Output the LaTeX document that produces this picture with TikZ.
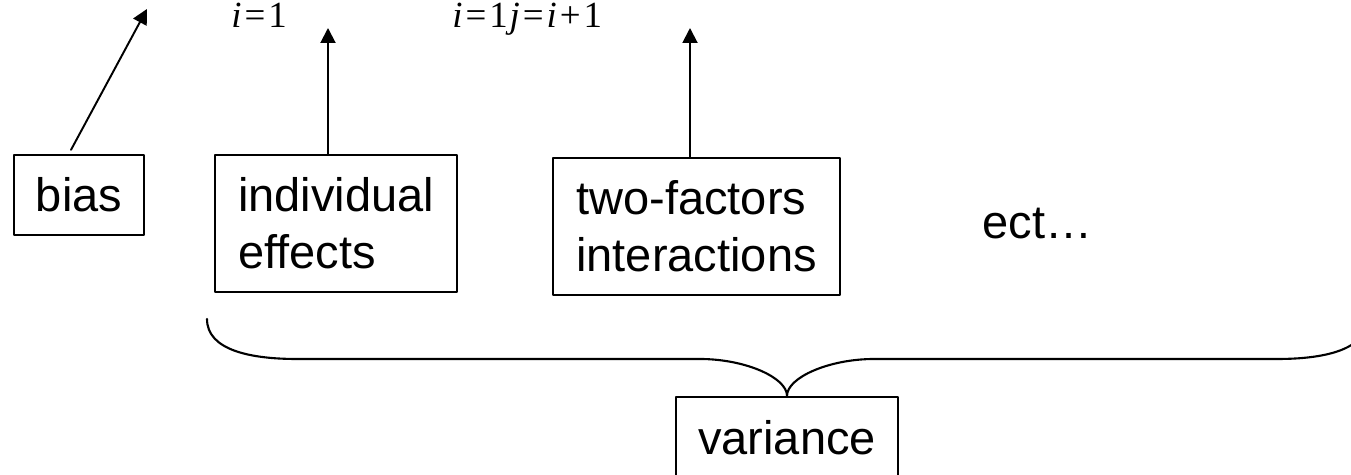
\documentclass[tikz,border=0pt]{standalone}
\usepackage{fontspec}
\setmainfont{Liberation Serif}
\newfontfamily\boxfont{Liberation Sans}
\usetikzlibrary{arrows.meta}

\begin{document}
\begin{tikzpicture}[x=1cm,y=1cm,>={Triangle[length=3mm,width=3mm]},line cap=round,line join=round,
  termbox/.style={draw,line width=1.3pt,align=left,inner sep=0pt,font=\boxfont\fontsize{26.75}{32.4}\selectfont},
  limit/.style={anchor=base west,inner sep=0pt,font=\fontsize{21}{25}\selectfont}]
\useasboundingbox (0,0) rectangle (27.02,9.5);
\node[termbox,minimum width=2.6cm,minimum height=1.6cm] (bias) at (1.58,5.6) {bias};
\node[termbox,minimum width=4.84cm,minimum height=2.74cm] (indiv) at (6.72,5.03) {individual\\effects};
\node[termbox,minimum width=5.74cm,minimum height=2.74cm] (twofac) at (13.93,4.97) {two-factors\\interactions};
\node[termbox,minimum width=4.44cm,minimum height=1.62cm] (var) at (15.74,0.75) {variance};
\node[anchor=base west,inner sep=0pt,font=\boxfont\fontsize{26.75}{32.4}\selectfont] (ect) at (19.64,4.72) {ect…};
\node[limit] (lim1) at (4.62,8.94) {\textit{i}\kern.08em=\kern.08em1};
\node[limit] (lim2) at (9.04,8.94) {\textit{i}\kern.08em=\kern.08em1\kern.05em\textit{j}\kern.08em=\kern.08em\textit{i}\kern.08em+\kern.08em1};
\coordinate (biastip) at (2.94,9.32);
\coordinate (indivtip) at (6.56,8.94);
\coordinate (twofactip) at (13.8,8.94);
\draw[->,line width=1.1pt] ([shift={(-0.16,0.08)}]bias.north) -- (biastip);
\draw[->,line width=1.1pt] ([xshift=-0.16cm]indiv.north) -- (indivtip);
\draw[->,line width=1.1pt] ([xshift=-0.13cm]twofac.north) -- (twofactip);
% brace over the variance terms
\coordinate (bl) at (4.14,3.12);
\coordinate (br) at (27.34,3.12);
\draw[line width=1.2pt] (bl) .. controls (4.14,2.5) and (5.0,2.32) .. (5.94,2.32) -- (14.0,2.32)
  .. controls (14.9,2.32) and (15.74,1.95) .. (var.north)
  .. controls (15.74,1.95) and (16.58,2.32) .. (17.48,2.32) -- (25.54,2.32)
  .. controls (26.48,2.32) and (27.34,2.5) .. (br);
\end{tikzpicture}
\end{document}
